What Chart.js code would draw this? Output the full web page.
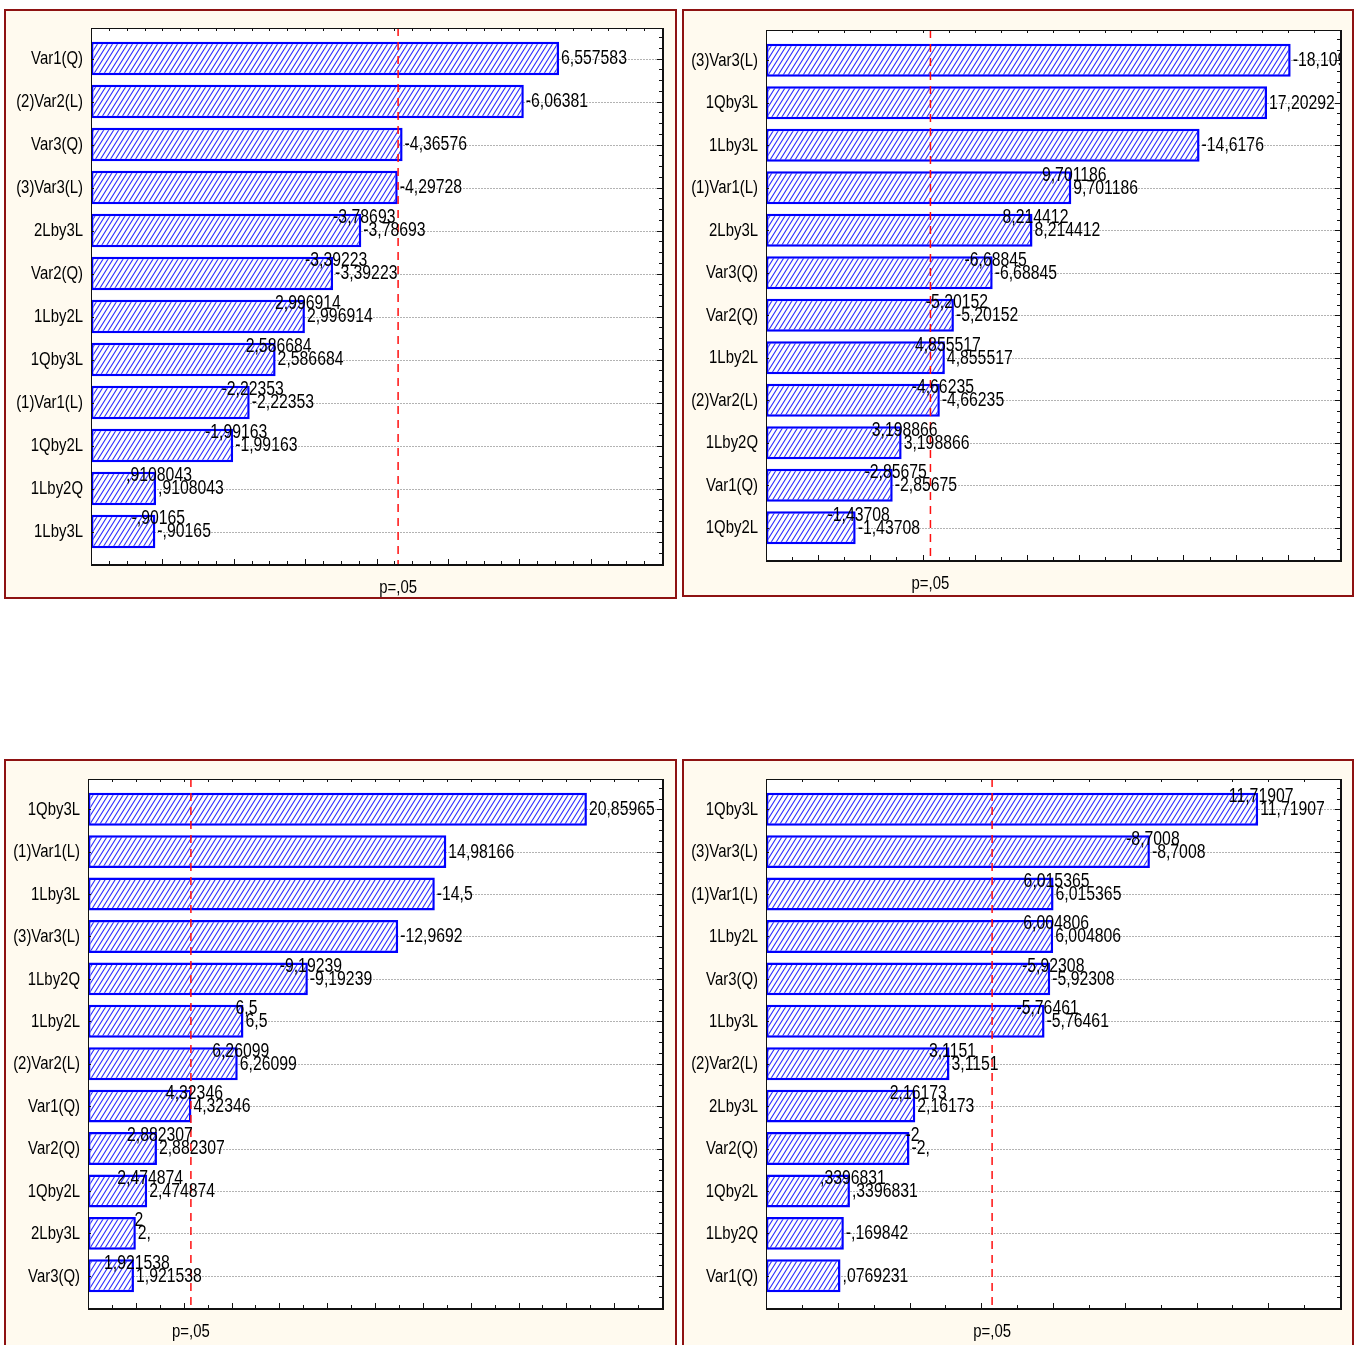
<!DOCTYPE html>
<html>
<head>
<meta charset="utf-8">
<script src="https://cdn.jsdelivr.net/npm/chart.js@4.4.1/dist/chart.umd.min.js"></script>
<style>
  html, body { margin: 0; padding: 0; background: #ffffff; width: 1358px; height: 1345px; overflow: hidden; }
  .panel { position: absolute; box-sizing: border-box; border: 2px solid #8e1212; background: #fffaef; }
  canvas { position: absolute; left: 0; top: 0; }
</style>
</head>
<body>
<div class="panel" style="left:4px;top:9px;width:673px;height:590px"></div>
<div class="panel" style="left:682px;top:9px;width:672px;height:588px"></div>
<div class="panel" style="left:4px;top:759px;width:673px;height:600px"></div>
<div class="panel" style="left:682px;top:759px;width:672px;height:600px"></div>
<canvas id="chartA" width="1358" height="1345"></canvas>
<canvas id="chartB" width="1358" height="1345"></canvas>
<canvas id="chartC" width="1358" height="1345"></canvas>
<canvas id="chartD" width="1358" height="1345"></canvas>
<script>
// ---- effect terms and standardized effect estimates, one set per response ----
const termsA   = ['Var1(Q)', '(2)Var2(L)', 'Var3(Q)', '(3)Var3(L)', '2Lby3L', 'Var2(Q)', '1Lby2L', '1Qby3L', '(1)Var1(L)', '1Qby2L', '1Lby2Q', '1Lby3L'];
const effectsA = [6.557583, -6.06381, -4.36576, -4.29728, -3.78693, -3.39223, 2.996914, 2.586684, -2.22353, -1.99163, 0.9108043, -0.90165];

const termsB   = ['(3)Var3(L)', '1Qby3L', '1Lby3L', '(1)Var1(L)', '2Lby3L', 'Var3(Q)', 'Var2(Q)', '1Lby2L', '(2)Var2(L)', '1Lby2Q', 'Var1(Q)', '1Qby2L'];
const effectsB = [-18.1093, 17.20292, -14.6176, 9.701186, 8.214412, -6.68845, -5.20152, 4.855517, -4.66235, 3.198866, -2.85675, -1.43708];

const termsC   = ['1Qby3L', '(1)Var1(L)', '1Lby3L', '(3)Var3(L)', '1Lby2Q', '1Lby2L', '(2)Var2(L)', 'Var1(Q)', 'Var2(Q)', '1Qby2L', '2Lby3L', 'Var3(Q)'];
const effectsC = [20.85965, 14.98166, -14.5, -12.9692, -9.19239, 6.5, 6.26099, 4.32346, 2.882307, 2.474874, 2, 1.921538];

const termsD   = ['1Qby3L', '(3)Var3(L)', '(1)Var1(L)', '1Lby2L', 'Var3(Q)', '1Lby3L', '(2)Var2(L)', '2Lby3L', 'Var2(Q)', '1Qby2L', '1Lby2Q', 'Var1(Q)'];
const effectsD = [11.71907, -8.7008, 6.015365, 6.004806, -5.92308, -5.76461, 3.1151, 2.16173, -2, 0.3396831, -0.169842, 0.0769231];

// which value labels are printed a second time, slightly raised
const echoA = [0, 0, 0, 0, 1, 1, 1, 1, 1, 1, 1, 1];
const echoB = [0, 0, 0, 1, 1, 1, 1, 1, 1, 1, 1, 1];
const echoC = [0, 0, 0, 0, 1, 1, 1, 1, 1, 1, 1, 1];
const echoD = [1, 1, 1, 1, 1, 1, 1, 1, 1, 1, 0, 0];

// critical t value for p = .05 (two-sided, 2 residual df)
const tCrit = 4.302653;
const pLabel = 'p=,05';

// ---- styling ----
const FONT = '"Liberation Sans", Arial, sans-serif';
const TERM_TEXT = { size: 19, squeeze: 0.785 };
const VALUE_TEXT = { size: 19.5, squeeze: 0.81 };
const PAD_TOP = 9, PAD_BOTTOM = 11;

// Statistica-style number text: decimal comma, no leading zero
function fmtValue(v, short) {
  let s = String(v).replace('.', ',');
  s = s.replace(/^(-?)0,/, '$1,');
  if (Number.isInteger(v) && !short) s += ',';
  return s;
}

// narrow-face text: regular face squeezed horizontally
function narrowText(ctx, text, x, y, align, style) {
  ctx.save();
  ctx.translate(x, y);
  ctx.scale(style.squeeze, 1);
  ctx.font = style.size + 'px ' + FONT;
  ctx.textAlign = align;
  ctx.textBaseline = 'middle';
  ctx.fillText(text, 0, 0);
  ctx.restore();
}

function hatchPattern(ctx) {
  const c = document.createElement('canvas');
  c.width = 5; c.height = 8;
  const g = c.getContext('2d');
  g.fillStyle = '#ffffff';
  g.fillRect(0, 0, 5, 8);
  g.strokeStyle = '#2a2aff';
  g.lineWidth = 1.1;
  for (const dx of [-5, 0, 5]) {
    g.beginPath();
    g.moveTo(6.25 + dx, -2);
    g.lineTo(-1.25 + dx, 10);
    g.stroke();
  }
  return ctx.createPattern(c, 'repeat');
}

const decor = {
  id: 'decor',
  beforeDatasetsDraw(chart, args, o) {
    const ctx = chart.ctx, a = chart.chartArea;
    const top = a.top - PAD_TOP, bottom = a.bottom + PAD_BOTTOM;
    const ys = chart.scales.y;
    ctx.save();
    ctx.fillStyle = '#ffffff';
    ctx.fillRect(a.left, top, a.right - a.left, bottom - top);
    // dotted grid at every term
    ctx.strokeStyle = '#b3b3b3';
    ctx.lineWidth = 1;
    ctx.setLineDash([2, 1]);
    chart.data.labels.forEach((t, i) => {
      const y = Math.round(ys.getPixelForValue(i)) + 0.5;
      ctx.beginPath(); ctx.moveTo(a.left, y); ctx.lineTo(a.right, y); ctx.stroke();
    });
    ctx.setLineDash([]);
    // term names left of the plot
    ctx.fillStyle = '#000000';
    chart.data.labels.forEach((t, i) => {
      narrowText(ctx, t, a.left - 8, ys.getPixelForValue(i) + 0.5, 'right', TERM_TEXT);
    });
    ctx.restore();
  },
  afterDatasetsDraw(chart, args, o) {
    const ctx = chart.ctx, a = chart.chartArea;
    const xs = chart.scales.x, ys = chart.scales.y;
    const top = a.top - PAD_TOP, bottom = a.bottom + PAD_BOTTOM;
    ctx.save();

    // p = .05 reference line
    const xp = xs.getPixelForValue(tCrit);
    ctx.strokeStyle = '#ff1010';
    ctx.lineWidth = 1.5;
    ctx.setLineDash([8, 6]);
    ctx.beginPath(); ctx.moveTo(xp, top); ctx.lineTo(xp, bottom); ctx.stroke();
    ctx.setLineDash([]);

    // value labels, clipped to the plot box
    ctx.save();
    ctx.beginPath(); ctx.rect(a.left, top, a.right - a.left, bottom - top); ctx.clip();
    ctx.fillStyle = '#000000';
    const meta = chart.getDatasetMeta(0);
    meta.data.forEach((bar, i) => {
      const v = o.values[i];
      const xe = bar.x;
      narrowText(ctx, fmtValue(v, false), xe + 2, bar.y + 0.5, 'left', VALUE_TEXT);
      if (o.echo[i]) {
        narrowText(ctx, fmtValue(v, true), xe + 3, bar.y - 12.5, 'center', VALUE_TEXT);
      }
    });
    ctx.restore();

    // plot box
    ctx.strokeStyle = '#111111';
    ctx.lineWidth = 1;
    ctx.strokeRect(Math.round(a.left) + 0.5, Math.round(top) + 0.5, Math.round(a.right - a.left), Math.round(bottom - top));
    ctx.lineWidth = 2;
    ctx.beginPath();
    ctx.moveTo(Math.round(a.left), Math.round(bottom) + 1);
    ctx.lineTo(Math.round(a.right) + 2, Math.round(bottom) + 1);
    ctx.moveTo(Math.round(a.right) + 1, Math.round(top));
    ctx.lineTo(Math.round(a.right) + 1, Math.round(bottom) + 1);
    ctx.stroke();

    // tick marks on the value axis, bottom and top
    ctx.lineWidth = 1;
    const n = Math.round((o.max - o.min) / o.minor);
    for (let k = 0; k <= n; k++) {
      const v = o.min + k * o.minor;
      const r = v / o.major;
      const isMajor = Math.abs(r - Math.round(r)) < 1e-6;
      const x = Math.round(xs.getPixelForValue(v)) + 0.5;
      ctx.beginPath();
      ctx.moveTo(x, bottom); ctx.lineTo(x, bottom - (isMajor ? 5 : 3));
      ctx.moveTo(x, top); ctx.lineTo(x, top + 3);
      ctx.stroke();
    }
    // tick marks on the term axes
    const step = ys.getPixelForValue(1) - ys.getPixelForValue(0);
    for (let q = -4; q <= chart.data.labels.length * 4 + 4; q++) {
      const y = Math.round(ys.getPixelForValue(0) + q * step / 4) + 0.5;
      if (y <= top + 1 || y >= bottom - 1) continue;
      const onTerm = q % 4 === 0;
      ctx.beginPath();
      ctx.moveTo(a.right, y); ctx.lineTo(a.right - (onTerm ? 5 : 3), y);
      if (onTerm) { ctx.moveTo(a.left, y); ctx.lineTo(a.left + 3, y); }
      ctx.stroke();
    }

    // p-level caption under the axis
    ctx.fillStyle = '#000000';
    narrowText(ctx, pLabel, xp, bottom + 24, 'center', TERM_TEXT);
    ctx.restore();
  }
};

function pareto(id, terms, values, echo, box, axis) {
  const canvas = document.getElementById(id);
  const ctx = canvas.getContext('2d');
  return new Chart(ctx, {
    type: 'bar',
    data: {
      labels: terms,
      datasets: [{
        data: values.map(v => Math.abs(v)),
        base: axis.min,
        backgroundColor: hatchPattern(ctx),
        borderColor: '#0000ff',
        borderWidth: 2.5,
        borderSkipped: false,
        barPercentage: 0.775,
        categoryPercentage: 1
      }]
    },
    options: {
      indexAxis: 'y',
      responsive: false,
      animation: false,
      devicePixelRatio: 1,
      layout: {
        padding: {
          left: box.left,
          right: 1358 - box.right,
          top: box.top + PAD_TOP,
          bottom: 1345 - (box.bottom - PAD_BOTTOM)
        }
      },
      scales: {
        x: { type: 'linear', min: axis.min, max: axis.max, display: false },
        y: { type: 'category', offset: true, display: false }
      },
      plugins: {
        legend: { display: false },
        tooltip: { enabled: false },
        decor: { values, echo, min: axis.min, max: axis.max, major: axis.major, minor: axis.minor }
      }
    },
    plugins: [decor]
  });
}

pareto('chartA', termsA, effectsA, echoA, { left: 91, top: 28, right: 662, bottom: 564 },   { min: 0,  max: 8,  major: 1, minor: 0.25 });
pareto('chartB', termsB, effectsB, echoB, { left: 766, top: 30, right: 1340, bottom: 560 },  { min: -2, max: 20, major: 2, minor: 1 });
pareto('chartC', termsC, effectsC, echoC, { left: 88, top: 779, right: 662, bottom: 1308 },  { min: 0,  max: 24, major: 2, minor: 1 });
pareto('chartD', termsD, effectsD, echoD, { left: 766, top: 779, right: 1340, bottom: 1308 }, { min: -2, max: 14, major: 2, minor: 1 });
</script>
</body>
</html>
